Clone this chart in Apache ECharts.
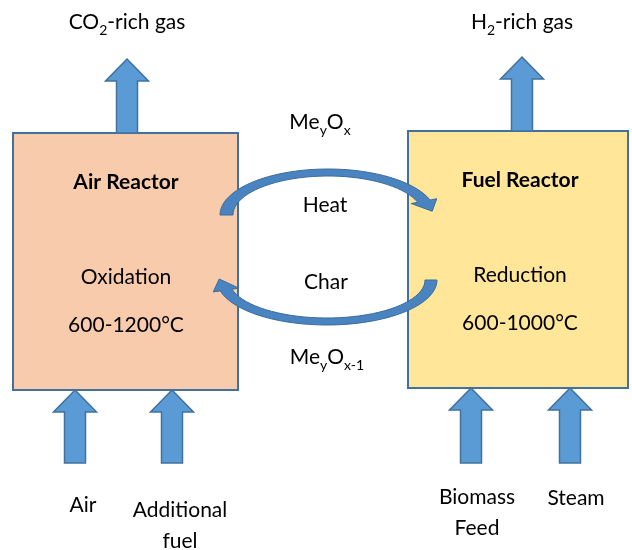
<!DOCTYPE html>
<html>
<head>
<meta charset="utf-8">
<script src="https://cdn.jsdelivr.net/npm/echarts@6/dist/echarts.min.js"></script>
<style>
html, body { margin: 0; padding: 0; background: #fff; }
#main { width: 632px; height: 550px; }
</style>
</head>
<body>
<div id="main"></div>
<script>
// reactors (drawing units = pixels of the 632x550 sheet)
var reactorNames = ['Air Reactor', 'Fuel Reactor'];
var reactorSteps = ['Oxidation', 'Reduction'];
var reactorTemps = ['600-1200°C', '600-1000°C'];
var reactorLeft = [13, 408];
var reactorRight = [238, 628];
var reactorTop = [133, 131];
var reactorBottom = [390, 388];
var reactorTextX = [126, 520];
var reactorTextY = [[182, 277, 325], [180, 275, 323]];

// outlet gases (arrows leave the top of each reactor)
var outletLabels = ['CO{s|2}-rich gas', 'H{s|2}-rich gas'];
var outletX = [127, 522];
var outletTipY = [59, 57];
var outletLabelY = [22, 22];

// feeds (arrows enter the bottom of each reactor)
var feedLabels = ['Air', 'Additional\nfuel', 'Biomass\nFeed', 'Steam'];
var feedReactor = [0, 0, 1, 1];
var feedX = [75, 172, 471, 570];
var feedBaseY = [463, 463, 463, 463];
var feedLabelX = [83, 180, 477, 576];
var feedLabelY = [505, 526, 513, 498];

// loop between reactors: [centre x, centre y, outer rx, outer ry, inner rx, inner ry, start deg, end deg]
var loopArcs = [
  [328, 215, 108, 46, 95, 39, 180, 341],
  [327, 280, 110, 45, 98, 38, 0, 166]
];
var loopLabels = ['Me{s|y}O{s|x}', 'Heat', 'Char', 'Me{s|y}O{s|x-1}'];
var loopLabelX = [320, 325, 326, 327];
var loopLabelY = [122, 205, 282, 357];

var FONT = 'Lato, "Open Sans", sans-serif';
var fills = ['#F8CBAD', '#FFE699'];
var edge = '#41719C';
var arrowFill = '#5B9BD5';

var richText = {
  n: { fontSize: 21, fontFamily: FONT, color: '#000', lineHeight: 31 },
  s: { fontSize: 14, fontFamily: FONT, color: '#000', lineHeight: 31, verticalAlign: 'bottom' }
};

function wrapRich(str) {
  // every plain run goes in the "n" style
  return str.split(/(\{s\|[^}]*\}|\n)/).map(function (p) {
    if (!p) return '';
    if (p === '\n') return p;
    return p.charAt(0) === '{' ? p : '{n|' + p + '}';
  }).join('');
}

function blockArrow(api, x, tipY, baseY) {
  var hw = 21.5, sw = 10.5, hl = 22;
  var pts = [
    [x, tipY], [x + hw, tipY + hl], [x + sw, tipY + hl], [x + sw, baseY],
    [x - sw, baseY], [x - sw, tipY + hl], [x - hw, tipY + hl]
  ];
  return {
    type: 'polygon',
    shape: { points: pts.map(function (p) { return api.coord(p); }) },
    style: { fill: arrowFill, stroke: edge, lineWidth: 1.5 }
  };
}

function curvedArrow(api, a) {
  var cx = a[0], cy = a[1], rxo = a[2], ryo = a[3], rxi = a[4], ryi = a[5];
  var t0 = a[6] * Math.PI / 180, t1 = a[7] * Math.PI / 180;
  var n = 40, outer = [], inner = [];
  for (var i = 0; i <= n; i++) {
    var t = t0 + (t1 - t0) * i / n;
    outer.push([cx + rxo * Math.cos(t), cy + ryo * Math.sin(t)]);
    inner.push([cx + rxi * Math.cos(t), cy + ryi * Math.sin(t)]);
  }
  var po = outer[n], pi = inner[n];
  var m = [(po[0] + pi[0]) / 2, (po[1] + pi[1]) / 2];
  var sgn = t1 > t0 ? 1 : -1;
  var rxm = (rxo + rxi) / 2, rym = (ryo + ryi) / 2;
  var d = [-rxm * Math.sin(t1) * sgn, rym * Math.cos(t1) * sgn];
  var dl = Math.hypot(d[0], d[1]);
  d = [d[0] / dl, d[1] / dl];
  var nv = [po[0] - pi[0], po[1] - pi[1]];
  var nl = Math.hypot(nv[0], nv[1]);
  nv = [nv[0] / nl, nv[1] / nl];
  var hw = 13, hl = 13;
  var pts = outer.slice();
  pts.push([m[0] + nv[0] * hw, m[1] + nv[1] * hw]);
  pts.push([m[0] + d[0] * hl, m[1] + d[1] * hl]);
  pts.push([m[0] - nv[0] * hw, m[1] - nv[1] * hw]);
  pts = pts.concat(inner.slice().reverse());
  return {
    type: 'polygon',
    shape: { points: pts.map(function (p) { return api.coord(p); }) },
    style: { fill: '#4A84C0', stroke: '#3B6C9C', lineWidth: 1 }
  };
}

function textEl(api, x, y, txt, bold) {
  var p = api.coord([x, y]);
  var rich = JSON.parse(JSON.stringify(richText));
  if (bold) rich.n.fontWeight = 'bold';
  return {
    type: 'text',
    x: p[0], y: p[1],
    style: {
      text: wrapRich(txt),
      rich: rich,
      align: 'center',
      verticalAlign: 'middle',
      fill: '#000'
    }
  };
}

// rows for the custom series
var reactorRows = reactorNames.map(function (n, i) { return [i]; });
var outletRows = outletX.map(function (x, i) { return [x, outletTipY[i], reactorTop[i]]; });
var feedRows = feedX.map(function (x, i) { return [x, reactorBottom[feedReactor[i]], feedBaseY[i]]; });

var textRows = [];
reactorNames.forEach(function (n, i) {
  textRows.push([reactorTextX[i], reactorTextY[i][0], n, 1]);
  textRows.push([reactorTextX[i], reactorTextY[i][1], reactorSteps[i], 0]);
  textRows.push([reactorTextX[i], reactorTextY[i][2], reactorTemps[i], 0]);
});
outletLabels.forEach(function (t, i) { textRows.push([outletX[i], outletLabelY[i], t, 0]); });
feedLabels.forEach(function (t, i) { textRows.push([feedLabelX[i], feedLabelY[i], t, 0]); });
loopLabels.forEach(function (t, i) { textRows.push([loopLabelX[i], loopLabelY[i], t, 0]); });

var chart = echarts.init(document.getElementById('main'), null, { renderer: 'canvas' });
chart.setOption({
  animation: false,
  backgroundColor: '#fff',
  grid: { left: 0, right: 0, top: 0, bottom: 0 },
  xAxis: { type: 'value', min: 0, max: 632, show: false },
  yAxis: { type: 'value', min: 0, max: 550, inverse: true, show: false },
  series: [
    {
      type: 'custom',
      data: reactorRows,
      renderItem: function (params, api) {
        var i = api.value(0);
        var a = api.coord([reactorLeft[i], reactorTop[i]]);
        var b = api.coord([reactorRight[i], reactorBottom[i]]);
        return {
          type: 'rect',
          shape: { x: a[0], y: a[1], width: b[0] - a[0], height: b[1] - a[1] },
          style: { fill: fills[i], stroke: edge, lineWidth: 2 }
        };
      }
    },
    {
      type: 'custom',
      data: outletRows.concat(feedRows),
      renderItem: function (params, api) {
        return blockArrow(api, api.value(0), api.value(1), api.value(2));
      }
    },
    {
      type: 'custom',
      data: loopArcs,
      renderItem: function (params, api) {
        return curvedArrow(api, loopArcs[params.dataIndex]);
      }
    },
    {
      type: 'custom',
      data: textRows.map(function (r, i) { return [r[0], r[1], i]; }),
      renderItem: function (params, api) {
        var r = textRows[params.dataIndex];
        return textEl(api, r[0], r[1], r[2], r[3]);
      }
    }
  ]
});
</script>
</body>
</html>
